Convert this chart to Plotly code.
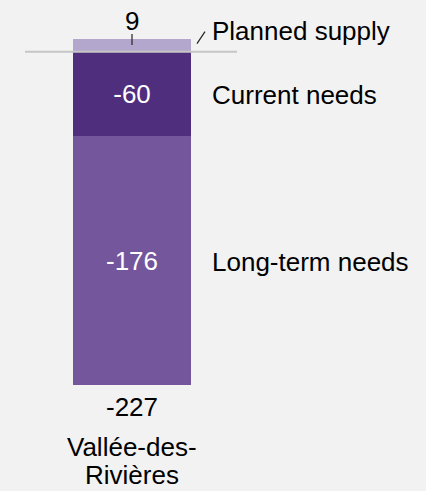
import plotly.graph_objects as go

# Housing balance for one region (units)
region = "Vallée-des-Rivières"
region_lines = ["Vallée-des-", "Rivières"]
series_names = ["Current needs", "Long-term needs", "Planned supply"]
series_values = [-60, -176, 9]
series_colors = ["#4f2e7e", "#73569b", "#b4a7cd"]
series_text_colors = ["#ffffff", "#ffffff", "#000000"]

total = sum(series_values)
neg_sum = sum(v for v in series_values if v < 0)

FONT = "Liberation Sans, Arial, sans-serif"
BG = "#f2f2f2"
FS = 26

fig = go.Figure()
for name, val, col, tcol in zip(series_names, series_values, series_colors, series_text_colors):
    inside = val < 0
    fig.add_trace(go.Bar(
        x=[region], y=[val], name=name,
        marker=dict(color=col, line=dict(width=0)),
        width=1,
        text=[str(val)] if inside else None,
        textposition="inside" if inside else "none",
        insidetextanchor="middle",
        textangle=0,
        textfont=dict(family=FONT, size=FS, color=tcol),
        hoverinfo="skip",
    ))

label_x = 0.66  # left edge of the series labels, in category units

annotations = []
# series labels on the right of the bar
cum_neg = 0
for name, val in zip(series_names, series_values):
    if val < 0:
        mid = cum_neg + val / 2
        cum_neg += val
        annotations.append(dict(x=label_x, y=mid, text=name, showarrow=False,
                                xanchor="left", yanchor="middle", yshift=-1))
    else:
        annotations.append(dict(x=label_x, y=val, text=name, showarrow=False,
                                xanchor="left", yanchor="middle", yshift=8))
        # value above the positive segment
        annotations.append(dict(x=0, y=val, text=str(val), showarrow=False,
                                xanchor="center", yanchor="middle", yshift=18))

# total below the bar, then the region name on two lines
annotations.append(dict(x=0, y=neg_sum, text=str(total), showarrow=False,
                        xanchor="center", yanchor="middle", yshift=-22))
for i, line in enumerate(region_lines):
    annotations.append(dict(x=0, y=neg_sum, text=line, showarrow=False,
                            xanchor="center", yanchor="middle", yshift=-62 - 28 * i))

for a in annotations:
    a["font"] = dict(family=FONT, size=FS, color="#000000")

planned = series_values[2]
shapes = [
    # zero line
    dict(type="line", xref="x", yref="y", x0=-0.907, x1=0.89, y0=0, y1=0,
         line=dict(color="#c6c6c6", width=2), layer="above"),
    # tick under the planned-supply value
    dict(type="line", xref="x", yref="y", ysizemode="pixel", yanchor=planned,
         x0=0, x1=0, y0=-6, y1=5, line=dict(color="#222222", width=1.2), layer="above"),
    # leader to the planned-supply label
    dict(type="line", xref="x", yref="y", xsizemode="pixel", xanchor=0.5,
         ysizemode="pixel", yanchor=0, x0=6, x1=14, y0=8, y1=20,
         line=dict(color="#222222", width=1.2), layer="above"),
]

fig.update_layout(
    width=426, height=491,
    margin=dict(l=0, r=0, t=0, b=0),
    paper_bgcolor=BG, plot_bgcolor=BG,
    barmode="relative", bargap=0,
    showlegend=False,
    font=dict(family=FONT, size=FS, color="#000000"),
    xaxis=dict(visible=False, range=[-1.119, 2.492], fixedrange=True),
    yaxis=dict(visible=False, range=[-311.1, 36.6], fixedrange=True),
    annotations=annotations,
    shapes=shapes,
    uniformtext=dict(minsize=FS, mode="show"),
)

fig.write_html("out.html", config={"displayModeBar": False})
